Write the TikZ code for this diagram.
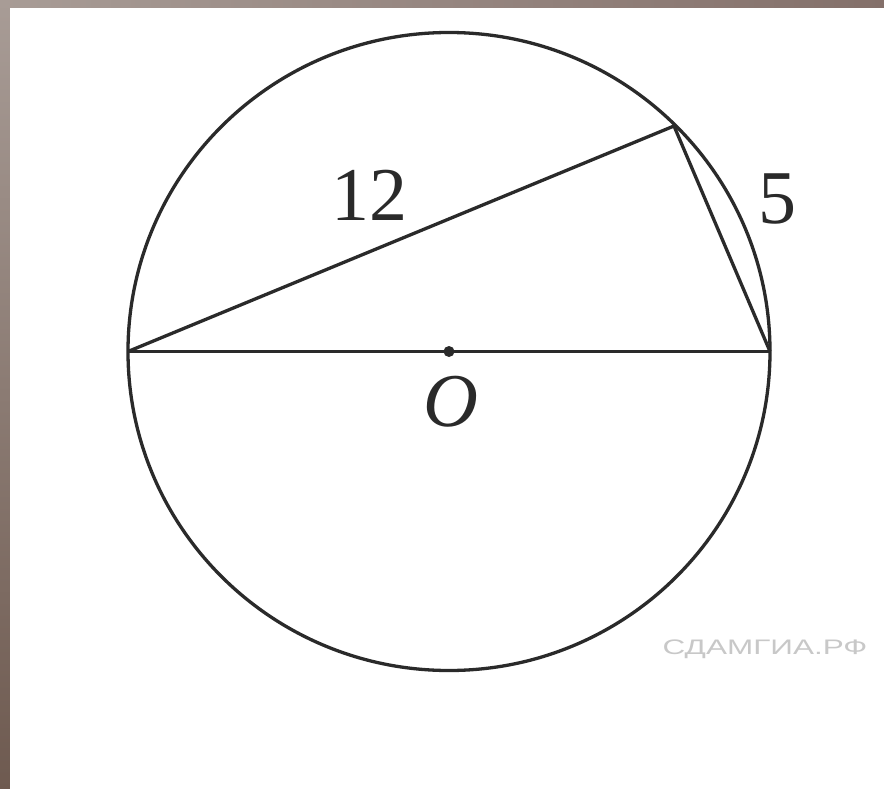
\documentclass[tikz,border=0pt]{standalone}
\usepackage{fontspec}
\setmainfont{Liberation Serif}
\newfontfamily\wmfont{Liberation Sans}
\definecolor{frameA}{HTML}{A89C96}
\definecolor{frameB}{HTML}{6E5A50}
\definecolor{frameC}{HTML}{84706A}
\definecolor{ink}{HTML}{2A2A2A}
\definecolor{wm}{HTML}{C8C8C8}
\tikzset{
  geo/.style={draw=ink, line width=3.3pt},
  lbl/.style={text=ink, font=\fontsize{76}{80}\selectfont, inner sep=0pt},
}
\begin{document}
\begin{tikzpicture}[x=1pt,y=-1pt]
\useasboundingbox (0,0) rectangle (884,789);
\shade[top color=frameA, bottom color=frameB] (0,0) rectangle (10,789);
\shade[left color=frameA, right color=frameC] (0,0) rectangle (884,8);
\fill[white] (10,8) rectangle (884,789);
\coordinate (O) at (449,351.5);
\coordinate (A) at (128,351.5);
\coordinate (B) at (770,351.5);
\coordinate (P) at (674,126);
\draw[geo] (O) ellipse [x radius=321, y radius=319];
\draw[geo] (A) -- (B);
\draw[geo, line join=miter] (A) -- (P) -- (B);
\fill[ink] (O) circle (5.5);
\node[lbl] (l12) at (369,195) {12};
\node[lbl] (l5) at (777,199) {5};
\node[lbl] (lO) at (451,402) {\itshape O};
\node[text=wm, inner sep=0pt, font=\wmfont\fontsize{21}{22}\selectfont, xscale=1.5] (wmk) at (765,649) {СДАМГИА.РФ};
\end{tikzpicture}
\end{document}
